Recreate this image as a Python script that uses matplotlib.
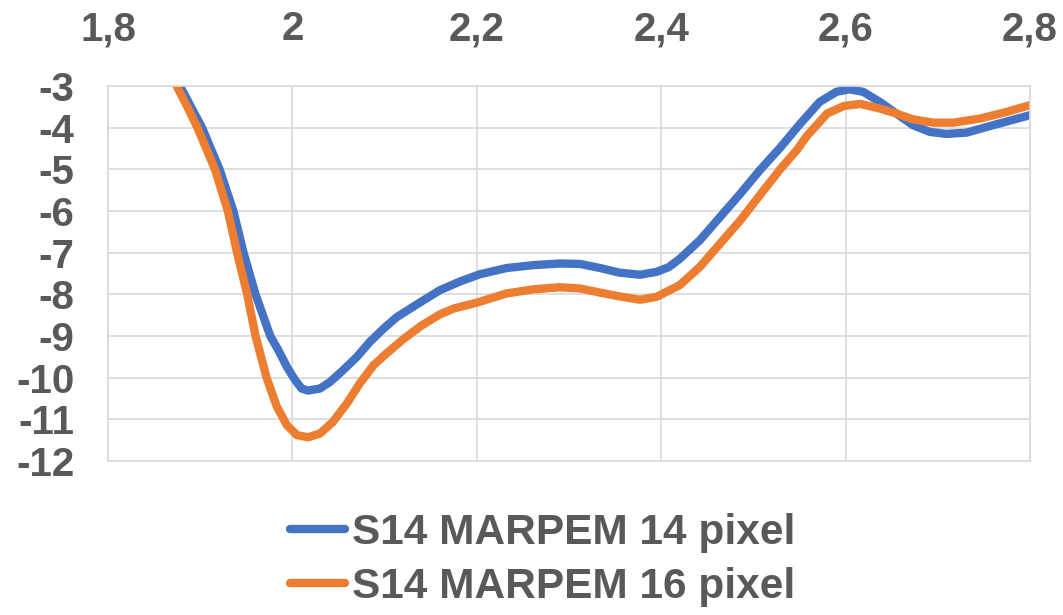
import numpy as np
import matplotlib
matplotlib.use("Agg")
import matplotlib.pyplot as plt
from matplotlib.ticker import FuncFormatter

# values (clipped at -3 like the original)
x14 = [1.868, 1.878, 1.890, 1.902, 1.921, 1.936, 1.947, 1.960, 1.976, 1.985,
       1.994, 2.003, 2.010, 2.017, 2.030, 2.041, 2.055, 2.070, 2.084, 2.099,
       2.113, 2.138, 2.160, 2.182, 2.203, 2.232, 2.261, 2.290, 2.312, 2.334,
       2.355, 2.377, 2.395, 2.408, 2.420, 2.442, 2.464, 2.486, 2.507, 2.529,
       2.551, 2.572, 2.590, 2.604, 2.619, 2.637, 2.655, 2.673, 2.691, 2.709,
       2.731, 2.760, 2.800]
y14 = [-2.5, -3.0, -3.5, -4.0, -5.0, -6.0, -7.0, -8.0, -9.0, -9.35,
       -9.74, -10.06, -10.26, -10.31, -10.26, -10.10, -9.82, -9.50, -9.14, -8.82,
       -8.55, -8.20, -7.90, -7.69, -7.52, -7.37, -7.30, -7.26, -7.27, -7.37,
       -7.48, -7.53, -7.46, -7.35, -7.15, -6.70, -6.14, -5.58, -5.02, -4.48,
       -3.90, -3.38, -3.14, -3.08, -3.14, -3.38, -3.66, -3.94, -4.10, -4.15,
       -4.12, -3.94, -3.70]

x16 = [1.864, 1.8745, 1.886, 1.897, 1.916, 1.930, 1.940, 1.951, 1.960, 1.972,
       1.983, 1.994, 2.005, 2.017, 2.030, 2.044, 2.059, 2.073, 2.088, 2.102,
       2.120, 2.140, 2.160, 2.175, 2.200, 2.232, 2.261, 2.290, 2.312, 2.334,
       2.355, 2.377, 2.395, 2.420, 2.442, 2.464, 2.486, 2.507, 2.529, 2.547,
       2.558, 2.580, 2.598, 2.616, 2.637, 2.655, 2.673, 2.695, 2.717, 2.746,
       2.775, 2.800]
y16 = [-2.5, -3.0, -3.5, -4.0, -5.0, -6.0, -7.0, -8.0, -9.0, -10.0,
       -10.69, -11.14, -11.38, -11.43, -11.34, -11.06, -10.62, -10.14, -9.70, -9.42,
       -9.08, -8.75, -8.48, -8.34, -8.20, -7.98, -7.88, -7.83, -7.86, -7.96,
       -8.05, -8.13, -8.06, -7.78, -7.34, -6.78, -6.22, -5.62, -5.00, -4.54,
       -4.20, -3.66, -3.48, -3.43, -3.54, -3.66, -3.80, -3.88, -3.88, -3.78,
       -3.62, -3.46]

labels = ["S14 MARPEM 14 pixel", "S14 MARPEM 16 pixel"]
xticks = [1.8, 2.0, 2.2, 2.4, 2.6, 2.8]
yticks = list(range(-12, -2))

plt.rcParams['font.family'] = ['Liberation Sans', 'DejaVu Sans']
plt.rcParams['axes.unicode_minus'] = False
txt = '#595959'
grid = '#d9d9d9'

fig = plt.figure(figsize=(10.63, 6.15), dpi=100)
ax = fig.add_axes([108 / 1063, 1 - 461 / 615, 922 / 1063, 375 / 615])

ax.plot(x14, y14, color='#4472c4', lw=6, solid_capstyle='round',
        solid_joinstyle='round', label=labels[0])
ax.plot(x16, y16, color='#ed7d31', lw=6, solid_capstyle='round',
        solid_joinstyle='round', label=labels[1])

ax.set_xlim(1.8, 2.8)
ax.set_ylim(-12, -3)
ax.set_xticks(xticks)
ax.set_yticks(yticks)
ax.xaxis.tick_top()
ax.xaxis.set_major_formatter(FuncFormatter(lambda v, p: ('%g' % round(v, 1)).replace('.', ',')))
ax.tick_params(axis='both', length=0, labelsize=29, labelcolor=txt)
ax.tick_params(axis='x', pad=27)
ax.tick_params(axis='y', pad=24)
for t in ax.get_xticklabels() + ax.get_yticklabels():
    t.set_fontweight('bold')
ax.grid(True, color=grid, lw=1.2)
ax.set_axisbelow(True)
for s in ax.spines.values():
    s.set_color(grid)
    s.set_linewidth(1.2)

fig.legend(loc='upper left', bbox_to_anchor=(290 / 1063, 1 - 513 / 615),
           frameon=False, borderaxespad=0, borderpad=0,
           prop={'size': 30.5, 'weight': 'bold'}, labelcolor=txt,
           handlelength=1.3, handletextpad=0.17, labelspacing=0.33)

fig.savefig('out.png', dpi=100)
